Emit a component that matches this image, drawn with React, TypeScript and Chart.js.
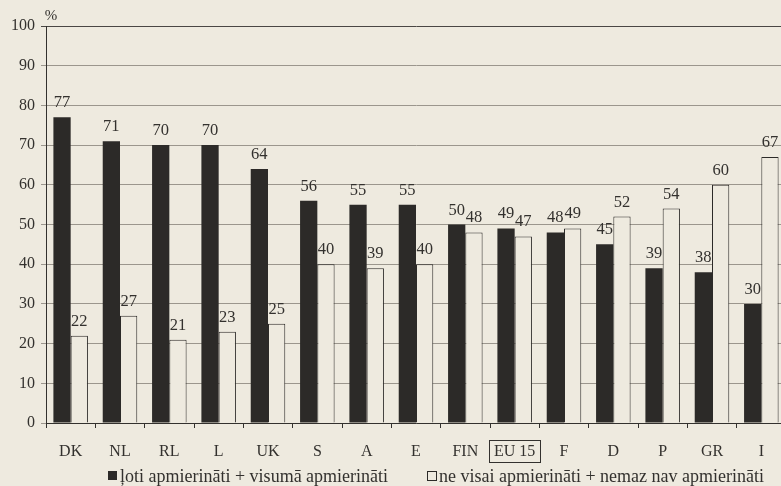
import React, { useEffect, useRef } from "react";
import { Chart, registerables } from "chart.js";

Chart.register(...registerables);

// Satisfaction survey, share of respondents by country (%)
const countries = ["DK", "NL", "RL", "L", "UK", "S", "A", "E", "FIN", "EU 15", "F", "D", "P", "GR", "I"];
const satisfied = [77, 71, 70, 70, 64, 56, 55, 55, 50, 49, 48, 45, 39, 38, 30];
const dissatisfied = [22, 27, 21, 23, 25, 40, 39, 40, 48, 47, 49, 52, 54, 60, 67];
const seriesLabels = [
  "ļoti apmierināti + visumā apmierināti",
  "ne visai apmierināti + nemaz nav apmierināti",
];
const unitLabel = "%";
const highlightedCategory = "EU 15";
const yMin = 0;
const yMax = 100;
const yStep = 10;

const FONT = '"Liberation Serif", "Times New Roman", serif';
const BG = "#eeeadf";
const INK = "#2c2a28";
const TEXT = "#33312e";
const GRID = "#9b968d";

const decorations = {
  id: "decorations",
  beforeDraw(chart: any) {
    const { ctx, width, height } = chart;
    ctx.save();
    ctx.fillStyle = BG;
    ctx.fillRect(0, 0, width, height);
    ctx.restore();
  },
  afterDatasetsDraw(chart: any) {
    const { ctx } = chart;
    ctx.save();
    ctx.font = `16.5px ${FONT}`;
    ctx.fillStyle = TEXT;
    ctx.textAlign = "center";
    ctx.textBaseline = "alphabetic";
    chart.data.datasets.forEach((ds: any, i: number) => {
      const meta = chart.getDatasetMeta(i);
      meta.data.forEach((el: any, j: number) => {
        ctx.fillText(String(ds.data[j]), el.x, el.y - 10);
      });
    });
    ctx.restore();
  },
  afterDraw(chart: any) {
    const { ctx, chartArea, scales, height } = chart;
    ctx.save();
    ctx.fillStyle = TEXT;
    ctx.strokeStyle = TEXT;

    // unit above the value axis
    ctx.font = `15px ${FONT}`;
    ctx.textAlign = "center";
    ctx.textBaseline = "alphabetic";
    ctx.fillText(unitLabel, chartArea.left + 5, chartArea.top - 6);

    // frame around the EU average label
    const idx = countries.indexOf(highlightedCategory);
    const cx = scales.x.getPixelForValue(idx);
    ctx.font = `16px ${FONT}`;
    const w = ctx.measureText(highlightedCategory).width + 10;
    ctx.lineWidth = 1;
    ctx.strokeRect(Math.round(cx - w / 2) + 0.5, Math.round(chartArea.bottom + 17) + 0.5, Math.round(w), 22);

    // legend
    const ly = height - 10;
    ctx.font = `18px ${FONT}`;
    ctx.textAlign = "left";
    ctx.textBaseline = "middle";
    const items = [
      { x: chartArea.left + 62, filled: true, label: seriesLabels[0] },
      { x: chartArea.left + 381, filled: false, label: seriesLabels[1] },
    ];
    items.forEach((it) => {
      if (it.filled) {
        ctx.fillStyle = INK;
        ctx.fillRect(it.x, ly - 5, 9, 9);
      } else {
        ctx.strokeStyle = INK;
        ctx.strokeRect(it.x + 0.5, ly - 4.5, 9, 9);
      }
      ctx.fillStyle = TEXT;
      ctx.fillText(it.label, it.x + 12, ly + 1);
    });
    ctx.restore();
  },
};

export default function App() {
  const canvasRef = useRef<HTMLCanvasElement | null>(null);

  useEffect(() => {
    document.body.style.margin = "0";
    const canvas = canvasRef.current;
    if (!canvas) return;
    const chart = new Chart(canvas, {
      type: "bar",
      data: {
        labels: countries,
        datasets: [
          {
            label: seriesLabels[0],
            data: satisfied,
            backgroundColor: INK,
            borderWidth: 0,
            categoryPercentage: 0.7,
            barPercentage: 1,
          },
          {
            label: seriesLabels[1],
            data: dissatisfied,
            backgroundColor: BG,
            borderColor: INK,
            borderWidth: 1,
            borderSkipped: "bottom",
            categoryPercentage: 0.7,
            barPercentage: 1,
          },
        ],
      },
      options: {
        responsive: false,
        animation: false,
        devicePixelRatio: 1,
        layout: { padding: { top: 26, right: 0, bottom: 23, left: 0 } },
        plugins: {
          legend: { display: false },
          tooltip: { enabled: false },
        },
        scales: {
          x: {
            grid: {
              offset: true,
              drawOnChartArea: false,
              drawTicks: true,
              tickLength: 5,
              color: TEXT,
            },
            border: { display: true, color: TEXT, width: 1 },
            ticks: {
              color: TEXT,
              font: { family: FONT, size: 16 },
              padding: 14,
              maxRotation: 0,
              autoSkip: false,
            },
            afterFit(scale: any) {
              scale.height = 40;
            },
          },
          y: {
            min: yMin,
            max: yMax,
            ticks: {
              stepSize: yStep,
              color: TEXT,
              font: { family: FONT, size: 16 },
              padding: 6,
            },
            grid: {
              color: (c: any) => (c.tick && c.tick.value === yMax ? "#4a4744" : GRID),
              lineWidth: 1,
              tickLength: 5,
            },
            border: { display: true, color: TEXT, width: 1 },
            afterFit(scale: any) {
              scale.width = 46;
            },
          },
        },
      },
      plugins: [decorations],
    });
    return () => chart.destroy();
  }, []);

  return (
    <div style={{ width: 781, height: 486, overflow: "hidden", position: "relative", background: BG }}>
      <canvas ref={canvasRef} width={786} height={486} style={{ display: "block" }} />
    </div>
  );
}
